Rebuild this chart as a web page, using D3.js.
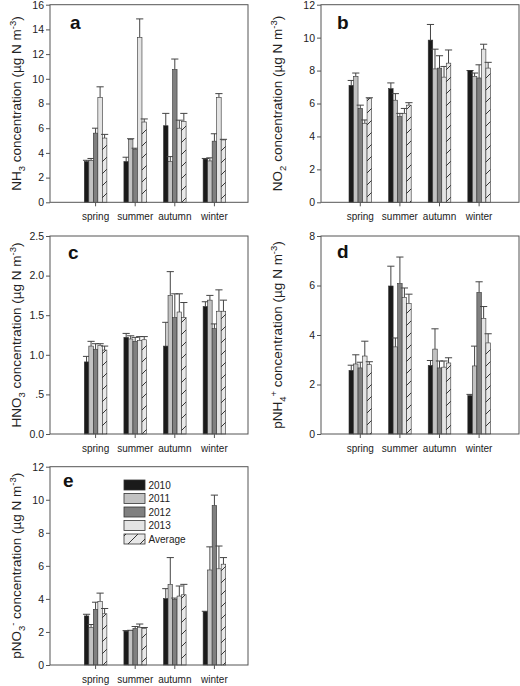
<!DOCTYPE html>
<html><head><meta charset="utf-8">
<script src="https://cdn.jsdelivr.net/npm/d3@7"></script>
<style>body{margin:0;background:#fff}svg{display:block;font-family:"Liberation Sans",Arial,sans-serif}</style>
</head><body><svg id="c" width="520" height="686"></svg>
<script>
const seasons = ["spring", "summer", "autumn", "winter"];
const years = ["2010", "2011", "2012", "2013", "Average"];
const yearColors = ["#1a1a1a", "#c2c2c2", "#808080", "#e4e4e4", "#e8e8e8"];

// means [season][year] and upper error-bar ends [season][year]
const nh3Mean  = [[3.3, 3.4, 5.6, 8.5, 5.2], [3.3, 5.1, 4.3, 13.35, 6.5], [6.2, 3.3, 10.75, 6.0, 6.55], [3.5, 3.35, 4.95, 8.5, 5.05]];
const nh3Upper = [[3.4, 3.55, 6.0, 9.35, 5.5], [3.65, 5.15, 4.38, 14.85, 6.75], [7.2, 3.7, 11.6, 6.65, 7.2], [3.55, 3.6, 5.55, 8.8, 5.1]];
const no2Mean  = [[7.1, 7.65, 5.7, 4.8, 6.3], [6.9, 6.2, 5.2, 5.4, 5.9], [9.85, 8.1, 8.15, 7.6, 8.45], [8.0, 7.65, 7.55, 9.3, 8.15]];
const no2Upper = [[7.4, 7.85, 5.9, 5.0, 6.35], [7.25, 6.6, 5.4, 5.7, 6.05], [10.8, 9.3, 8.9, 8.25, 9.25], [8.0, 7.85, 8.35, 9.6, 8.5]];
const hno3Mean  = [[0.91, 1.11, 1.07, 1.12, 1.06], [1.22, 1.2, 1.17, 1.18, 1.19], [1.11, 1.75, 1.47, 1.54, 1.47], [1.61, 1.69, 1.33, 1.55, 1.55]];
const hno3Upper = [[0.98, 1.17, 1.14, 1.14, 1.11], [1.27, 1.24, 1.22, 1.23, 1.23], [1.41, 2.05, 1.77, 1.77, 1.66], [1.67, 1.75, 1.39, 1.82, 1.69]];
const nh4Mean  = [[2.57, 2.83, 2.67, 3.15, 2.8], [5.98, 3.52, 6.08, 5.52, 5.27], [2.77, 3.43, 2.67, 2.7, 2.87], [1.55, 2.75, 5.72, 4.67, 3.68]];
const nh4Upper = [[2.78, 3.2, 2.9, 3.75, 2.92], [6.78, 3.88, 7.15, 5.9, 5.65], [2.97, 4.25, 2.95, 2.95, 3.08], [1.6, 3.55, 6.15, 5.15, 4.05]];
const no3Mean  = [[2.97, 2.27, 3.37, 3.85, 3.1], [2.05, 2.1, 2.2, 2.28, 2.22], [4.02, 4.88, 3.97, 4.17, 4.25], [3.22, 5.75, 9.65, 5.82, 6.1]];
const no3Upper = [[3.07, 2.45, 3.8, 4.35, 3.42], [2.08, 2.1, 2.33, 2.48, 2.27], [4.62, 6.5, 4.05, 4.78, 4.88], [3.25, 7.15, 10.28, 7.2, 6.5]];

const nh3Ticks = [0, 2, 4, 6, 8, 10, 12, 14, 16];
const no2Ticks = [0, 2, 4, 6, 8, 10, 12];
const hno3Ticks = [0, 0.5, 1, 1.5, 2, 2.5];
const hno3TickLabels = ["0.0", ".5", "1.0", "1.5", "2.0", "2.5"];
const nh4Ticks = [0, 2, 4, 6, 8];
const no3Ticks = [0, 2, 4, 6, 8, 10, 12];

const svg = d3.select("#c");
const defs = svg.append("defs");
const pat = defs.append("pattern").attr("id", "hatch").attr("patternUnits", "userSpaceOnUse")
  .attr("width", 12).attr("height", 12);
pat.append("rect").attr("width", 12).attr("height", 12).attr("fill", yearColors[4]);
pat.append("line").attr("x1", 0).attr("y1", 12).attr("x2", 12).attr("y2", 0)
  .attr("stroke", "#222").attr("stroke-width", 0.9);
pat.append("line").attr("x1", -3).attr("y1", 3).attr("x2", 3).attr("y2", -3)
  .attr("stroke", "#222").attr("stroke-width", 0.9);
pat.append("line").attr("x1", 9).attr("y1", 15).attr("x2", 15).attr("y2", 9)
  .attr("stroke", "#222").attr("stroke-width", 0.9);

function fillFor(i) { return i === 4 ? "url(#hatch)" : yearColors[i]; }

const AX = "#555", TXT = "#222";

function panel(cfg) {
  const g = svg.append("g");
  const y = d3.scaleLinear().domain([0, cfg.max]).range([cfg.bottom, cfg.top]);
  const x = d3.scaleBand().domain(seasons)
    .range([cfg.left + cfg.off, cfg.left + cfg.off + 141.4]).paddingInner(0.43).paddingOuter(0);
  const xs = d3.scaleBand().domain(years).range([0, x.bandwidth()]).padding(0);

  // bars
  seasons.forEach((s, si) => {
    years.forEach((yr, yi) => {
      const bx = x(s) + xs(yr);
      const v = cfg.mean[si][yi], u = cfg.upper[si][yi];
      const cx = bx + xs.bandwidth() / 2;
      g.append("line").attr("x1", cx).attr("x2", cx).attr("y1", y(v)).attr("y2", y(u))
        .attr("stroke", "#444").attr("stroke-width", 1);
      g.append("line").attr("x1", cx - 3.6).attr("x2", cx + 3.6).attr("y1", y(u)).attr("y2", y(u))
        .attr("stroke", "#444").attr("stroke-width", 1);
      g.append("rect").attr("x", bx).attr("width", xs.bandwidth())
        .attr("y", y(v)).attr("height", y(0) - y(v))
        .attr("fill", fillFor(yi)).attr("stroke", "#333").attr("stroke-width", 0.6);
    });
  });

  // box
  g.append("rect").attr("x", cfg.left).attr("y", cfg.top)
    .attr("width", cfg.right - cfg.left).attr("height", cfg.bottom - cfg.top)
    .attr("fill", "none").attr("stroke", AX).attr("stroke-width", 1);

  // y axis
  const ya = d3.axisLeft(y).tickValues(cfg.ticks).tickSize(4).tickPadding(2)
    .tickFormat((d, i) => cfg.tickLabels ? cfg.tickLabels[i] : d3.format("d")(d));
  const yg = g.append("g").attr("transform", `translate(${cfg.left},0)`).call(ya);
  yg.select(".domain").remove();
  yg.selectAll("line").attr("stroke", AX);
  yg.selectAll("text").attr("fill", TXT).attr("font-size", 10.5)
    .attr("font-family", "Liberation Sans, Arial, sans-serif");

  // x axis
  const xa = d3.axisBottom(x).tickSize(4).tickPadding(7);
  const xg = g.append("g").attr("transform", `translate(0,${cfg.bottom})`).call(xa);
  xg.select(".domain").remove();
  xg.selectAll("line").attr("stroke", AX);
  xg.selectAll("text").attr("fill", TXT).attr("font-size", 10)
    .attr("font-family", "Liberation Sans, Arial, sans-serif");

  // panel letter
  g.append("text").attr("x", cfg.left + cfg.lx).attr("y", cfg.top + cfg.ly)
    .attr("font-size", 19).attr("font-weight", "bold").attr("fill", "#111").text(cfg.letter);

  // y title
  const yc = (cfg.top + cfg.bottom) / 2;
  const t = g.append("text").attr("transform", `translate(${cfg.tx},${yc}) rotate(-90)`)
    .attr("text-anchor", "middle").attr("font-size", 13.5).attr("fill", TXT);
  let shift = 0;
  cfg.title.forEach(([str, kind]) => {
    const target = kind === "sub" ? 4 : kind === "sup" ? -5.5 : 0;
    const sp = t.append("tspan").attr("dy", target - shift).text(str);
    if (kind) sp.attr("font-size", 9.5);
    shift = target;
  });
}

panel({left: 50, right: 248, top: 4.7, bottom: 202.3, off: 34.3, max: 16, ticks: nh3Ticks,
  mean: nh3Mean, upper: nh3Upper, letter: "a", lx: 20, ly: 24, tx: 21,
  title: [["NH", 0], ["3", "sub"], [" concentration (µg N m", 0], ["-3", "sup"], [")", 0]]});
panel({left: 321, right: 519, top: 4.7, bottom: 202.3, off: 28, max: 12, ticks: no2Ticks,
  mean: no2Mean, upper: no2Upper, letter: "b", lx: 16, ly: 24, tx: 282,
  title: [["NO", 0], ["2", "sub"], [" concentration (µg N m", 0], ["-3", "sup"], [")", 0]]});
panel({left: 50, right: 248, top: 236, bottom: 434, off: 34.3, max: 2.5, ticks: hno3Ticks, tickLabels: hno3TickLabels,
  mean: hno3Mean, upper: hno3Upper, letter: "c", lx: 18, ly: 23, tx: 21,
  title: [["HNO", 0], ["3", "sub"], [" concentration (µg N m", 0], ["-3", "sup"], [")", 0]]});
panel({left: 321, right: 519, top: 236, bottom: 434, off: 28, max: 8, ticks: nh4Ticks,
  mean: nh4Mean, upper: nh4Upper, letter: "d", lx: 16, ly: 22, tx: 282,
  title: [["pNH", 0], ["4", "sub"], ["+", "sup"], [" concentration (µg N m", 0], ["-3", "sup"], [")", 0]]});
panel({left: 50, right: 248, top: 466.7, bottom: 665, off: 34.3, max: 12, ticks: no3Ticks,
  mean: no3Mean, upper: no3Upper, letter: "e", lx: 13, ly: 20, tx: 21,
  title: [["pNO", 0], ["3", "sub"], ["-", "sup"], [" concentration (µg N m", 0], ["-3", "sup"], [")", 0]]});

// legend (panel e)
const lg = svg.append("g");
const legY = d3.scalePoint().domain(years).range([485, 539]);
years.forEach((yr, i) => {
  lg.append("rect").attr("x", 124).attr("y", legY(yr) - 5).attr("width", 21).attr("height", 10)
    .attr("fill", fillFor(i)).attr("stroke", "#333").attr("stroke-width", 0.8);
  lg.append("text").attr("x", 148.5).attr("y", legY(yr) + 3.5).attr("font-size", 10)
    .attr("fill", TXT).text(yr);
});
</script></body></html>
